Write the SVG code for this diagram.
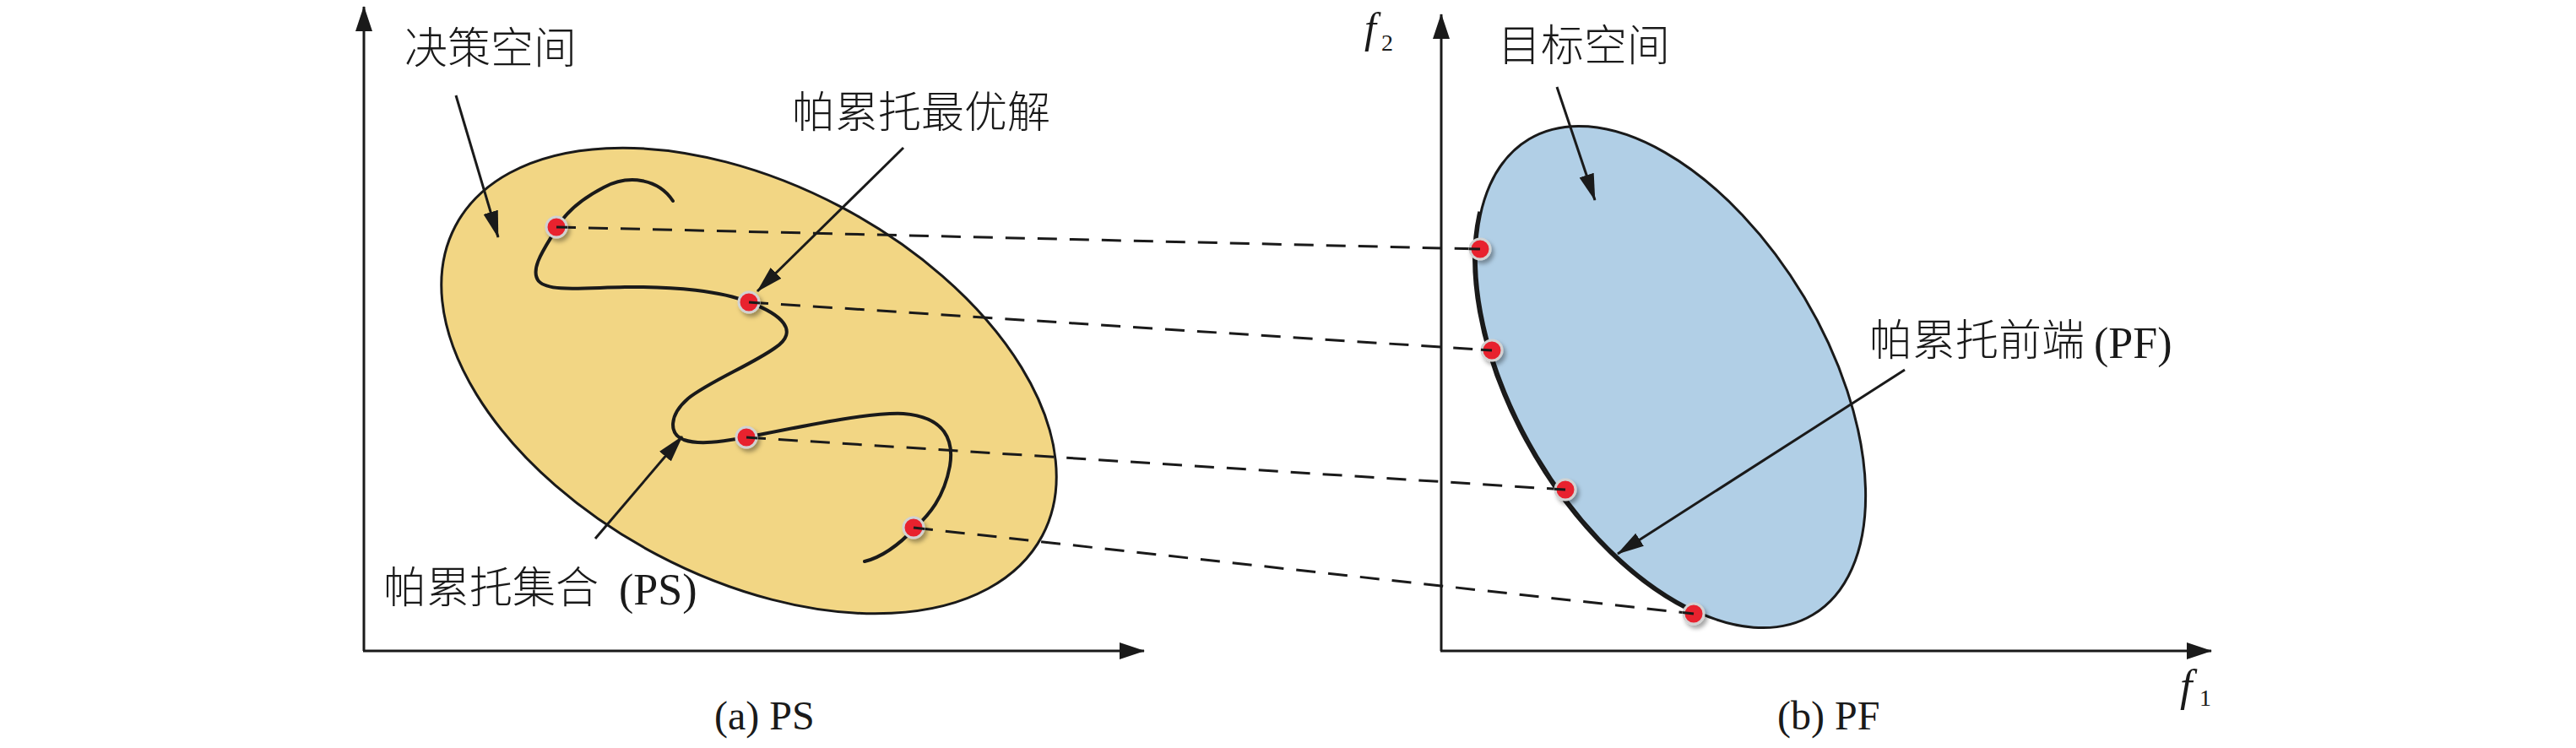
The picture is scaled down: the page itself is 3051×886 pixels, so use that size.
<svg xmlns="http://www.w3.org/2000/svg" width="3051" height="886" viewBox="0 0 3051 886">
<style>
.cjk{font-family:"Noto Sans CJK SC","Noto Sans",sans-serif;font-size:51px;font-weight:300;fill:#1a1a1a}
.lat{font-family:"Liberation Serif",serif;font-size:52px;font-weight:400;fill:#1a1a1a}
.cap{font-family:"Liberation Serif",serif;font-size:48px;fill:#1a1a1a}
.ital{font-family:"Liberation Serif",serif;font-style:italic;fill:#1a1a1a}
.sub{font-family:"Liberation Serif",serif;fill:#1a1a1a}
.axis{stroke:#1a1a1a;stroke-width:3;fill:none}
.ptr{stroke:#1a1a1a;stroke-width:3;fill:none}
.dash{stroke:#1a1a1a;stroke-width:3;fill:none;stroke-dasharray:23 15}
.dot{fill:#E8232E;stroke:#D2D2D2;stroke-width:3;filter:url(#sh)}
.curve{stroke:#1a1a1a;stroke-width:4;fill:none;stroke-linecap:round}
.tick{stroke:#1a1a1a;stroke-width:3}
</style>
<defs>
<marker id="ah" viewBox="0 0 32 18" refX="31" refY="9" markerWidth="32" markerHeight="18" orient="auto" markerUnits="userSpaceOnUse">
<path d="M0,0 L32,9 L0,18 Z" fill="#1a1a1a"/>
</marker>
<marker id="ax" viewBox="0 0 30 20" refX="29" refY="10" markerWidth="30" markerHeight="20" orient="auto" markerUnits="userSpaceOnUse">
<path d="M0,0 L30,10 L0,20 Z" fill="#1a1a1a"/>
</marker>
<filter id="sh" x="-50%" y="-50%" width="200%" height="200%">
<feDropShadow dx="3" dy="4" stdDeviation="2.5" flood-color="#000" flood-opacity="0.35"/>
</filter>
</defs>

<g id="axes-ps">
<line class="axis" x1="431" y1="771" x2="431" y2="8" marker-end="url(#ax)"/>
<line class="axis" x1="430" y1="771" x2="1355" y2="771" marker-end="url(#ax)"/>
</g>
<g id="axes-pf">
<line class="axis" x1="1707" y1="771" x2="1707" y2="17" marker-end="url(#ax)"/>
<line class="axis" x1="1706" y1="771" x2="2619" y2="771" marker-end="url(#ax)"/>
<text class="ital" x="1616" y="50" font-size="50">f</text>
<text class="sub" x="1636" y="60" font-size="28">2</text>
<text class="ital" x="2582" y="830" font-size="52">f</text>
<text class="sub" x="2605" y="836" font-size="28">1</text>
</g>

<g id="decision-space">
<ellipse cx="887" cy="451" rx="393" ry="233" transform="rotate(27.8 887 451)" fill="#F2D684" stroke="#1a1a1a" stroke-width="3"/>
</g>
<g id="objective-space">
<ellipse cx="1979" cy="446.5" rx="328" ry="184" transform="rotate(59.2 1979 446.5)" fill="#B1CFE6" stroke="#1a1a1a" stroke-width="3"/>
</g>

<g id="pareto-set">
<path class="curve" d="M797,238 C780,212 745,206 715,222 C690,235 670,252 660,269 C648,290 626,318 638,333 C650,346 690,341 740,340 C800,339 855,345 887,358 C925,372 948,392 918,412 C890,432 840,452 815,472 C792,492 792,514 810,521 C830,528 860,522 884,518 C950,505 1030,488 1070,490 C1120,494 1130,522 1125,552 C1118,590 1100,610 1084,625 C1065,645 1045,660 1024,665"/>
</g>
<g id="pareto-front">
<path d="M1754.6,249.6 A328 184 59.2 0 0 2013.9,726.6" transform="translate(-2.5,1)" fill="none" stroke="#1a1a1a" stroke-width="3.5"/>
</g>

<g id="connectors">
<line class="dash" x1="659" y1="269" x2="1753" y2="295"/>
<line class="dash" x1="887" y1="358" x2="1767" y2="415"/>
<line class="dash" x1="884" y1="518" x2="1854" y2="580"/>
<line class="dash" x1="1082" y1="625" x2="2006" y2="727"/>
<line class="ptr" x1="540" y1="113" x2="590" y2="281" marker-end="url(#ah)"/>
<line class="ptr" x1="1070" y1="175" x2="897" y2="345" marker-end="url(#ah)"/>
<line class="ptr" x1="705" y1="638" x2="808" y2="517" marker-end="url(#ah)"/>
<line class="ptr" x1="1844" y1="103" x2="1889" y2="237" marker-end="url(#ah)"/>
<line class="ptr" x1="2256" y1="438" x2="1916" y2="656" marker-end="url(#ah)"/>
</g>

<g id="dots-ps">
<circle class="dot" cx="659" cy="269" r="12"/>
<circle class="dot" cx="887" cy="358" r="12"/>
<circle class="dot" cx="884" cy="518" r="12"/>
<circle class="dot" cx="1082" cy="625" r="12"/>
</g>
<g id="dots-pf">
<circle class="dot" cx="1753" cy="295" r="12"/>
<circle class="dot" cx="1767" cy="415" r="12"/>
<circle class="dot" cx="1854" cy="580" r="12"/>
<circle class="dot" cx="2006" cy="727" r="12"/>
</g>
<g id="dot-ticks">
<line class="tick" x1="659" y1="269" x2="672" y2="269.3"/>
<line class="tick" x1="887" y1="358" x2="900" y2="359"/>
<line class="tick" x1="884" y1="518" x2="897" y2="519"/>
<line class="tick" x1="1082" y1="625" x2="1095" y2="626.4"/>
<line class="tick" x1="1740" y1="294.7" x2="1753" y2="295"/>
<line class="tick" x1="1754" y1="414.2" x2="1767" y2="415"/>
<line class="tick" x1="1841" y1="579.2" x2="1854" y2="580"/>
<line class="tick" x1="1993" y1="725.6" x2="2006" y2="727"/>
</g>

<g id="label-decision-space"><text class="cjk" x="479" y="75">决策空间</text></g>
<g id="label-pareto-optimal"><text class="cjk" x="938" y="151">帕累托最优解</text></g>
<g id="label-pareto-set"><text class="cjk" x="454" y="714">帕累托集合<tspan class="lat" x="733" y="716">(PS)</tspan></text></g>
<g id="label-objective-space"><text class="cjk" x="1774" y="72">目标空间</text></g>
<g id="label-pareto-front"><text class="cjk" x="2214" y="421">帕累托前端<tspan class="lat" x="2480" y="424">(PF)</tspan></text></g>
<g id="caption-a"><text class="cap" x="846" y="864">(a) PS</text></g>
<g id="caption-b"><text class="cap" x="2105" y="864">(b) PF</text></g>
</svg>
